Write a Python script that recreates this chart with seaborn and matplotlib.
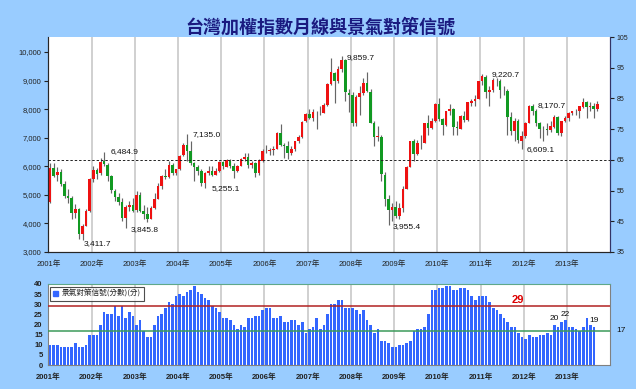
import numpy as np
import pandas as pd
import seaborn as sns
import matplotlib.pyplot as plt
from matplotlib.patches import Patch

# ---- data (monthly, Jan 2001 .. Sep 2013) ----
years = [str(y) + "年" for y in range(2001, 2014)]

opens = [
    4739, 5950, 5680, 5800, 5390, 4970, 4880, 4350, 4500, 3640, 3900, 4450,
    5560, 5870, 5750, 6170, 6060, 5670, 5150, 4940, 4760, 4190, 4580, 4650,
    4460, 5010, 4430, 4320, 4150, 4555, 4870, 5320, 5650, 5610, 6040, 5770,
    5890, 6380, 6750, 6520, 6110, 5970, 5840, 5420, 5765, 5840, 5700, 5840,
    6140, 5990, 6200, 6000, 5820, 6010, 6240, 6310, 6030, 6110, 5760, 6200,
    6550, 6530, 6560, 6610, 7170, 6740, 6700, 6450, 6610, 6880, 7020, 7570,
    7820, 7700, 7900, 7880, 7870, 8140, 8880, 9280, 8980, 9410, 9710, 8580,
    8500, 7520, 8410, 8570, 8910, 8610, 7520, 7020, 7040, 5710, 4870, 4460,
    4590, 4250, 4550, 5210, 5990, 6890, 6430, 6830, 6820, 7510, 7340, 7580,
    8190, 7640, 7430, 7920, 8000, 7370, 7320, 7760, 7610, 8230, 8290, 8370,
    8970, 9140, 8600, 8680, 9000, 8980, 8650, 8640, 7740, 7220, 7580, 6900,
    7070, 7510, 8120, 7930, 7500, 7300, 7290, 7270, 7390, 7710, 7160, 7580,
    7700, 7850, 7940, 7920, 8090, 8250, 8060, 8100, 8020,
]
highs = [
    6105, 6104, 5960, 5900, 5500, 5200, 4950, 4680, 4550, 3990, 4500, 5600,
    6000, 5950, 6300, 6484.9, 6100, 5700, 5200, 5050, 4900, 4650, 4800, 4900,
    5141, 5100, 4650, 4580, 4600, 5050, 5400, 5700, 5900, 6180, 6100, 5900,
    6400, 6800, 7135.0, 6900, 6150, 6050, 5900, 5800, 6000, 6000, 5950, 6200,
    6200, 6250, 6250, 6100, 6050, 6300, 6480, 6450, 6200, 6150, 6250, 6600,
    6750, 6650, 6700, 7200, 7474, 6800, 6900, 6700, 6900, 7100, 7600, 7850,
    8000, 8000, 7950, 8100, 8200, 8900, 9807, 9300, 9500, 9859.7, 9750, 8700,
    8600, 8500, 8800, 9100, 9309, 8700, 7600, 7400, 7100, 5800, 5000, 4700,
    4800, 4700, 5300, 6000, 6900, 6950, 6930, 7100, 7500, 7800, 7700, 8200,
    8395, 7700, 7950, 8190, 8050, 7600, 7800, 7950, 8250, 8350, 8500, 9000,
    9220.7, 9200, 8800, 9100, 9100, 9050, 8800, 8700, 7900, 7700, 7650, 7250,
    7550, 8150, 8170.7, 8000, 7550, 7400, 7500, 7600, 7800, 7750, 7600, 7750,
    7900, 7950, 8000, 8100, 8400, 8300, 8250, 8200, 8300,
]
lows = [
    4700, 5620, 5470, 5300, 4900, 4700, 4150, 4200, 3450, 3411.7, 3900, 4400,
    5450, 5550, 5700, 6000, 5500, 5050, 4800, 4650, 4100, 3845.8, 4450, 4400,
    4400, 4400, 4150, 4044, 4140, 4500, 4850, 5200, 5550, 5600, 5700, 5700,
    5880, 6350, 6200, 6050, 5500, 5700, 5300, 5255.1, 5700, 5650, 5680, 5800,
    5900, 5990, 5950, 5600, 5800, 6000, 6200, 5950, 5950, 5620, 5700, 6150,
    6450, 6400, 6400, 6600, 6700, 6300, 6250, 6400, 6550, 6800, 7000, 7550,
    7650, 7600, 7300, 7800, 7850, 8100, 8850, 8200, 8900, 9300, 8300, 7900,
    7400, 7400, 7800, 8500, 8600, 7500, 6700, 6900, 5500, 4600, 3955.4, 4100,
    4200, 4160, 4400, 5200, 5980, 6200, 6400, 6600, 6800, 7100, 7300, 7550,
    7600, 7080, 7420, 7800, 7080, 7100, 7300, 7550, 7600, 8100, 8100, 8360,
    8850, 8400, 8100, 8600, 8800, 8400, 8500, 7100, 7100, 6900, 6800, 6609.1,
    7000, 7500, 7800, 7400, 7000, 6900, 7100, 7200, 7350, 7100, 7050, 7550,
    7600, 7800, 7800, 7700, 8050, 7700, 7950, 7700, 7950,
]
closes = [
    5936, 5674, 5797, 5381, 4967, 4883, 4352, 4509, 3636, 3903, 4441, 5551,
    5872, 5742, 6167, 6065, 5675, 5153, 4940, 4764, 4191, 4579, 4645, 4452,
    5011, 4432, 4321, 4148, 4555, 4872, 5318, 5650, 5611, 6045, 5771, 5890,
    6375, 6750, 6522, 6117, 5977, 5839, 5420, 5765, 5845, 5706, 5844, 6140,
    5994, 6207, 6006, 5818, 6011, 6242, 6312, 6033, 6119, 5764, 6203, 6548,
    6532, 6562, 6614, 7171, 6747, 6704, 6455, 6611, 6884, 7021, 7567, 7823,
    7699, 7901, 7884, 7875, 8145, 8883, 9287, 8982, 9411, 9711, 8586, 8506,
    7521, 8412, 8572, 8919, 8619, 7523, 7024, 7046, 5719, 4870, 4460, 4591,
    4248, 4557, 5210, 5992, 6890, 6432, 6829, 6826, 7509, 7340, 7582, 8188,
    7640, 7436, 7920, 8004, 7374, 7329, 7760, 7616, 8238, 8287, 8372, 8973,
    9145, 8600, 8683, 9008, 8988, 8653, 8644, 7741, 7225, 7588, 6904, 7072,
    7517, 8121, 7933, 7501, 7301, 7296, 7270, 7398, 7716, 7167, 7580, 7700,
    7850, 7947, 7919, 8094, 8255, 8062, 8108, 8022, 8174,
]

# business cycle monitoring score, Jan 2001 .. Aug 2013
scores = [
    10, 10, 10, 9, 9, 9, 9, 11, 9, 9, 10, 15,
    15, 15, 20, 26, 25, 25, 29, 24, 29, 23, 26, 24,
    20, 22, 17, 14, 14, 20, 24, 25, 28, 31, 30, 34,
    35, 34, 36, 37, 39, 36, 35, 33, 32, 29, 28, 26,
    23, 23, 22, 20, 18, 20, 19, 23, 23, 24, 24, 27,
    28, 28, 23, 23, 24, 21, 21, 22, 22, 20, 21, 16,
    18, 19, 23, 18, 20, 25, 30, 30, 32, 32, 28, 28,
    28, 27, 25, 27, 22, 20, 16, 18, 12, 12, 11, 9,
    9, 10, 10, 11, 12, 17, 18, 18, 19, 25, 37, 37,
    38, 38, 39, 39, 37, 37, 38, 38, 37, 34, 32, 34,
    34, 34, 31, 28, 27, 25, 23, 21, 19, 19, 16, 14,
    13, 15, 14, 14, 15, 15, 16, 15, 20, 19, 21, 22,
    19, 19, 18, 17, 19, 23, 20, 19,
]

# turning points labelled on the index chart (month index, which extreme)
turn_idx = [9, 15, 21, 38, 43, 81, 94, 120, 131, 134]
turn_kind = ["low", "high", "low", "high", "low", "high", "low", "high", "low", "high"]
# score bars with a value label
score_lbl_idx = [140, 143, 151]
red_level = 29
green_level = 17
signal_mid = 65

# ---- layout ----
W, H = 636, 389
BG = "#99CCFF"
sns.set_style("white")
plt.rcParams["font.family"] = ["Liberation Sans", "Noto Sans CJK TC", "DejaVu Sans"]

fig = plt.figure(figsize=(W / 100, H / 100), dpi=100, facecolor=BG)
ax = fig.add_axes([48.3 / W, 137 / H, 561.6 / W, 215 / H])
axb = fig.add_axes([48.3 / W, 24 / H, 562 / W, 81 / H])

# ---- candlesticks ----
df = pd.DataFrame({"open": opens, "high": highs, "low": lows, "close": closes})
df["t"] = np.arange(len(df)) + 0.5
df["up"] = df["close"] >= df["open"]
body_col = np.where(df["up"], "#EE1111", "#119922")

ax.vlines(df["t"], df["low"], df["high"], color="#666666", lw=0.85, zorder=2)
ax.bar(df["t"], df["close"] - df["open"], bottom=df["open"], width=0.72,
       color=body_col, linewidth=0, zorder=3)

ax.set_xlim(0, 156)
ax.set_ylim(3000, 10525)
ax.set_yticks(range(3000, 10001, 1000))
ax.set_yticklabels([f"{v:,}" for v in range(3000, 10001, 1000)])
ax.set_xticks(range(0, 145, 12))
ax.set_xticklabels(years)
ax.grid(axis="x", color="#C8C8C8", lw=1.2, zorder=0)
ax.grid(axis="y", visible=False)
ax.tick_params(axis="both", labelsize=5.5, length=3, width=0.8, pad=2, direction="out",
               colors="#222222")
ax.tick_params(axis="x", pad=3)
ax.spines["top"].set_visible(False)
for s in ["left", "bottom", "right"]:
    ax.spines[s].set_color("#333366")
    ax.spines[s].set_linewidth(0.8)

ax2 = ax.twinx()
ax2.set_ylim(35, 105)
ax2.set_yticks(range(35, 106, 10))
ax2.tick_params(axis="y", labelsize=5, length=3, width=0.8, pad=2, colors="#222222")
ax2.spines["top"].set_visible(False)
ax2.spines["right"].set_color("#333366")
ax2.axhline(signal_mid, color="#222222", lw=0.7, ls=(0, (2.5, 2)), zorder=4)

offsets = {9: (1, -2.5), 15: (4.5, 0.3), 21: (3.8, -1), 38: (3.8, -0.5), 43: (4.5, -1),
           81: (3.8, -1), 94: (3.3, -1.5), 120: (6.5, -0.5), 131: (3.8, -0.3), 134: (3.8, -0.6)}
for i, k in zip(turn_idx, turn_kind):
    v = highs[i] if k == "high" else lows[i]
    ax.annotate(f"{v:,.1f}", xy=(i + 0.5, v), xytext=offsets[i], textcoords="offset points",
                ha="left", va="center", fontsize=6, color="#111111", zorder=5)

fig.text(0.503, 0.93, "台灣加權指數月線與景氣對策信號", ha="center", va="center",
         fontsize=13, fontweight="bold", color="#1A1A80",
         family=["Noto Sans CJK TC", "DejaVu Sans"])

# ---- score bars ----
sdf = pd.DataFrame({"t": np.arange(len(scores)) + 0.5, "score": scores})
sns.barplot(data=sdf, x="t", y="score", native_scale=True, color="#3366FF",
            saturation=1, width=0.72, errorbar=None, linewidth=0, ax=axb, zorder=2)
axb.set_xlim(0, 156)
axb.set_ylim(0, 40)
axb.set_yticks(range(0, 41, 5))
axb.set_xticks(range(0, 145, 12))
axb.set_xticklabels(years)
axb.set_xlabel("")
axb.set_ylabel("")
axb.grid(axis="x", color="#C8C8C8", lw=1.2, zorder=0)
axb.tick_params(axis="both", labelsize=5.5, length=2, width=0.8, pad=2, colors="#222222")
axb.tick_params(axis="x", pad=4)
for lab in axb.get_xticklabels() + axb.get_yticklabels():
    lab.set_fontweight("bold")
for s in axb.spines.values():
    s.set_color("#808080")
    s.set_linewidth(0.8)
axb.spines["top"].set_color("#5FA88A")

axb.axhline(red_level, color="#B22222", lw=1.1, zorder=3)
axb.axhline(green_level, color="#3C9A5A", lw=1.1, zorder=3)
axb.text(130.4, 32, str(red_level), color="#DD0000", fontsize=8, fontweight="bold",
         ha="center", va="center")
axb.text(1.01, green_level, str(green_level), transform=axb.get_yaxis_transform(),
         fontsize=6, ha="left", va="center", color="#111111")
for i in score_lbl_idx:
    axb.text(i + 0.5, scores[i] + 1.2, str(scores[i]), fontsize=6, ha="center",
             va="bottom", color="#111111")

leg = axb.legend(handles=[Patch(color="#3366FF")], labels=["景氣對策信號(分數)(分)"],
                 loc="upper left", bbox_to_anchor=(0.003, 0.965), fontsize=5.5,
                 frameon=True, fancybox=False, edgecolor="#222222", borderpad=0.4,
                 handlelength=0.7, handleheight=0.7, handletextpad=0.4, borderaxespad=0)
leg.get_frame().set_linewidth(0.8)
for t in leg.get_texts():
    t.set_family(["Noto Sans CJK TC", "DejaVu Sans"])

fig.savefig("out.png", dpi=100, facecolor=BG)
